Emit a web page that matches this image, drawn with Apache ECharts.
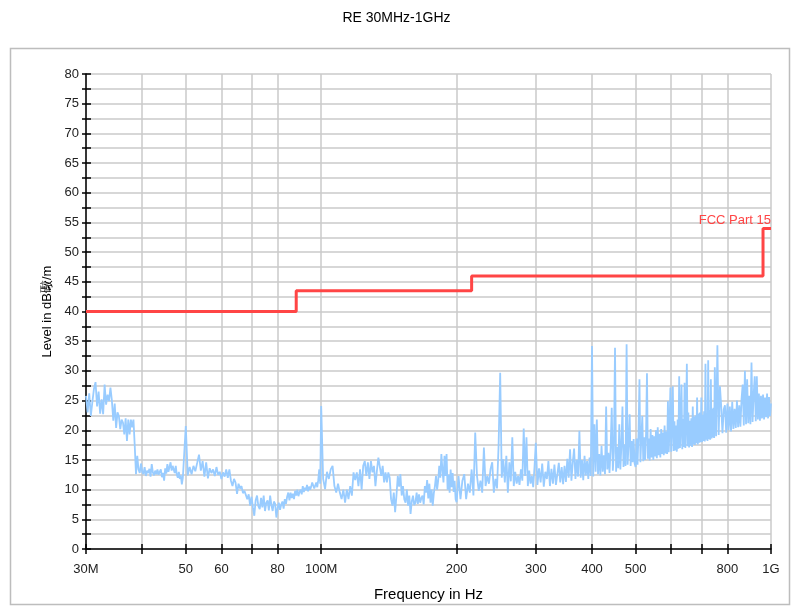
<!DOCTYPE html>
<html><head><meta charset="utf-8">
<script src="https://cdn.jsdelivr.net/npm/echarts@6/dist/echarts.min.js"></script>
<style>html,body{margin:0;padding:0;background:#fff}#c{width:793px;height:607px}</style>
</head><body><div id="c"></div>
<script>
// Receiver sweep: each segment starts at sweepStart[k] MHz with sweepStep[k] MHz spacing.
const sweepStart = [30, 50, 100, 200, 300, 500, 750];
const sweepStep  = [0.25, 0.5, 1, 2, 2.5, 2.5, 5];
const level1 = [25.8,23.0,26.2,22.4,24.8,27.0,28.1,24.0,26.5,22.8,
25.2,22.7,27.7,24.3,26.0,24.9,27.2,25.0,21.6,24.5,
20.4,23.0,22.4,20.2,21.8,21.3,19.3,22.0,18.2,21.8,
19.3,21.8,20.5,21.8,17.4,12.6,15.7,13.4,12.8,14.4,
13.0,12.6,13.8,12.3,13.2,12.8,13.5,12.2,14.3,12.9,
12.4,13.2,12.6,13.4,12.5,13.0,13.4,12.1,12.8,11.5,
13.6,12.7,14.3,13.0,12.8,14.6,13.2,14.0,13.4,12.8,
14.0,12.5,12.0,13.0,11.8,12.4,10.9,12.0,11.8,12.2];
const level2 = [20.7,12.4,13.8,12.6,14.0,13.1,14.5,15.9,13.2,14.8,
12.2,14.6,11.9,13.6,12.8,13.4,12.3,13.8,12.5,13.0,
11.8,12.9,12.2,13.4,12.0,13.4,11.5,10.6,11.8,11.2,
9.3,11.0,10.2,10.6,9.4,9.8,10.1,8.4,9.2,7.3,
8.8,7.0,5.6,8.2,9.0,7.2,6.7,8.6,7.0,9.0,
6.4,7.8,8.2,6.5,9.0,7.4,6.4,8.0,7.6,5.3,
6.9,7.8,6.6,7.5,8.0,6.8,8.4,7.6,8.8,9.5,
8.2,9.5,8.6,9.3,8.4,9.8,9.0,10.0,8.9,9.6,
10.0,9.2,10.6,9.6,10.3,9.9,10.8,9.7,10.5,10.0,
10.5,11.2,10.9,10.2,10.0,11.2,10.4,11.6,13.4,11.0];
const level3 = [24.1,11.8,10.1,13.0,11.8,13.4,14.0,10.6,9.5,11.0,
9.5,8.4,10.0,7.8,10.0,8.4,10.6,9.0,12.9,11.6,
12.9,10.6,13.4,10.0,14.0,14.8,12.3,14.6,11.8,14.8,
12.9,14.0,10.6,13.2,15.4,15.7,12.3,14.0,11.2,12.9,
11.2,12.9,12.0,8.4,7.3,9.5,6.2,9.0,12.3,10.5,
12.6,9.0,10.6,8.4,7.8,10.0,7.3,9.0,5.9,8.0,
9.0,7.4,7.8,9.5,7.6,9.2,7.8,8.6,9.0,7.5,
10.6,9.5,11.6,8.5,11.0,7.8,10.0,7.3,9.4,10.6,
12.3,10.0,11.5,14.0,12.0,16.0,13.4,11.2,15.7,12.3,
16.0,10.0,12.5,9.5,13.4,10.4,12.8,9.6,11.5,8.4];
const level4 = [7.9,12.3,8.4,11.5,12.6,8.4,11.0,9.5,13.4,9.0,
19.6,12.3,9.8,11.5,9.5,17.1,10.6,12.3,11.0,13.5,
14.6,9.5,11.8,10.2,17.6,29.7,12.0,15.1,11.2,15.7,
9.5,14.6,11.4,18.8,10.6,13.0,11.0,12.3,10.8,13.4,
11.5,20.3,12.3,18.8,10.6,13.2,11.0,12.3,10.4,13.8];
const level5 = [17.9,10.8,13.6,11.2,14.4,10.5,13.0,11.8,14.8,10.6,
13.5,11.0,14.2,10.8,12.6,14.5,11.2,13.8,10.9,14.0,
11.3,15.2,12.0,16.8,11.5,14.6,16.9,11.8,15.0,12.2,
19.9,12.0,15.0,11.6,15.7,12.4,14.8,11.8,15.4,12.3,
34.2,12.2,21.0,13.0,21.8,12.6,16.0,12.4,17.4,13.0,
15.8,12.6,24.0,13.4,16.2,12.8,17.0,23.8,13.2,16.5,
33.9,13.0,17.2,13.6,21.0,13.4,17.5,24.0,13.8,17.6,
14.0,34.5,14.2,18.0,22.7,14.0,18.2,14.6,18.5,14.4];
const level6 = [13.8,18.6,14.2,19.5,28.6,14.6,19.0,22.4,14.8,18.8,
15.0,19.4,29.6,15.2,18.6,14.9,20.2,15.4,19.2,15.0,
19.0,15.6,20.0,15.3,20.5,15.8,19.4,15.4,20.2,16.0,
19.6,15.8,20.8,16.1,19.8,16.0,24.9,16.3,20.6,27.2,
16.4,21.0,27.4,16.5,21.5,16.6,20.8,16.4,21.8,16.9,
29.1,17.0,21.4,27.7,16.8,21.9,17.2,28.0,17.0,22.0,
31.2,17.3,23.0,17.1,21.6,17.4,22.0,17.2,24.0,17.6,
22.3,17.5,22.5,17.8,25.5,17.6,22.8,17.9,23.0,18.0,
25.5,18.0,22.6,18.2,23.2,18.1,31.2,18.4,22.8,18.2,
31.8,18.5,23.4,18.4,28.6,18.6,23.6,18.8,23.8,18.7];
const level7 = [30.6,
19.0,34.3,19.2,27.4,24.0,19.5,23.5,24.2,19.6,24.5,
20.0,24.0,19.8,24.8,20.2,23.6,20.4,25.0,20.5,24.2,
20.6,25.2,27.7,20.8,30.0,21.0,28.6,21.2,25.8,21.0,
31.4,21.4,26.0,29.1,21.5,29.1,21.8,26.2,21.6,25.8,
22.0,26.0,21.8,25.5,22.2,26.2,22.0,25.6,22.4,24.5];

// FCC Part 15 limit line
const limitFreq = [30,88,88,216,216,960,960,1000];
const limitLevel = [40,40,43.5,43.5,46,46,54,54];

// Axis ticks
const xTickFreqs = [30,40,50,60,70,80,100,200,300,400,500,600,700,800,1000];
const xLabelFreqs = [30,50,60,80,100,200,300,400,500,800,1000];
const xLabelTexts = ['30M','50','60','80','100M','200','300','400','500','800','1G'];
const yMin = 0, yMax = 80, yStep = 2.5, yLabelStep = 5;

const lg = v => Math.log10(v);
const segments = [level1, level2, level3, level4, level5, level6, level7];
const noiseData = [];
segments.forEach((lv, k) => {
  lv.forEach((v, i) => noiseData.push([lg(sweepStart[k] + i * sweepStep[k]), v]));
});
const limitData = limitFreq.map((f, i) => [lg(f), limitLevel[i]]);

const FONT = 'Liberation Sans, Arial, sans-serif';
const chart = echarts.init(document.getElementById('c'));
const xTickVals = xTickFreqs.map(lg);
const xLabelVals = xLabelFreqs.map(lg);

chart.setOption({
  animation: false,
  backgroundColor: '#fff',
  title: {
    text: 'RE 30MHz-1GHz', left: 'center', top: 6,
    textStyle: {fontFamily: FONT, fontSize: 14, fontWeight: 'normal', color: '#000'}
  },
  graphic: [{
    type: 'rect', silent: true, z: -1,
    shape: {x: 10.5, y: 48.5, width: 779, height: 556},
    style: {fill: 'none', stroke: '#bdbdbd', lineWidth: 1.5}
  }],
  grid: {left: 86, right: 22, top: 74, bottom: 57},
  xAxis: [{
    type: 'value', min: lg(30), max: lg(1000), position: 'bottom',
    name: 'Frequency in Hz', nameLocation: 'middle', nameGap: 38,
    nameTextStyle: {fontFamily: FONT, fontSize: 15, color: '#000'},
    axisLine: {show: true, lineStyle: {color: '#000', width: 1.5}},
    axisTick: {show: true, length: 5, customValues: xTickVals, lineStyle: {color: '#000', width: 1.5}},
    axisLabel: {
      customValues: xLabelVals, margin: 14, fontFamily: FONT, fontSize: 13, color: '#222',
      formatter: v => {
        const i = xLabelVals.findIndex(t => Math.abs(t - v) < 1e-6);
        return i >= 0 ? xLabelTexts[i] : '';
      }
    },
    splitLine: {show: true, lineStyle: {color: '#cacaca', width: 1.5}}
  }, {
    type: 'value', min: lg(30), max: lg(1000), position: 'bottom', gridIndex: 0,
    axisLine: {show: false},
    axisTick: {show: true, inside: true, length: 5, customValues: xTickVals, lineStyle: {color: '#000', width: 1.5}},
    axisLabel: {show: false},
    splitLine: {show: false}
  }],
  yAxis: [{
    type: 'value', min: yMin, max: yMax, interval: yStep, position: 'left',
    name: 'Level in dB礮/m', nameLocation: 'middle', nameGap: 32,
    nameTextStyle: {fontFamily: FONT, fontSize: 13, color: '#000'},
    axisLine: {show: true, lineStyle: {color: '#000', width: 1.5}},
    axisTick: {show: true, length: 4, lineStyle: {color: '#000', width: 1.5}},
    axisLabel: {
      margin: 7, fontFamily: FONT, fontSize: 13, color: '#222',
      formatter: v => (Math.abs(v % yLabelStep) < 1e-6 ? String(v) : '')
    },
    splitLine: {show: true, lineStyle: {color: '#cacaca', width: 1.5}}
  }, {
    type: 'value', min: yMin, max: yMax, interval: yStep, position: 'left', gridIndex: 0,
    axisLine: {show: false},
    axisTick: {show: true, inside: true, length: 5, lineStyle: {color: '#000', width: 1.5}},
    axisLabel: {show: false},
    splitLine: {show: false}
  }],
  series: [{
    type: 'line', name: 'Trace', data: noiseData, xAxisIndex: 0, yAxisIndex: 0,
    showSymbol: false, symbol: 'none', clip: true, z: 2,
    lineStyle: {color: '#99ccff', width: 1.8}
  }, {
    type: 'line', name: 'FCC Part 15', data: limitData, xAxisIndex: 0, yAxisIndex: 0,
    showSymbol: false, symbol: 'none', z: 3,
    lineStyle: {color: '#ff4545', width: 3},
    markPoint: {
      symbol: 'circle', symbolSize: 0, silent: true,
      data: [{coord: [lg(1000), 54]}],
      label: {
        show: true, formatter: 'FCC Part 15', position: 'top', align: 'right', distance: 1,
        fontFamily: FONT, fontSize: 13, color: '#ff4545'
      }
    }
  }]
});
</script>
</body></html>
